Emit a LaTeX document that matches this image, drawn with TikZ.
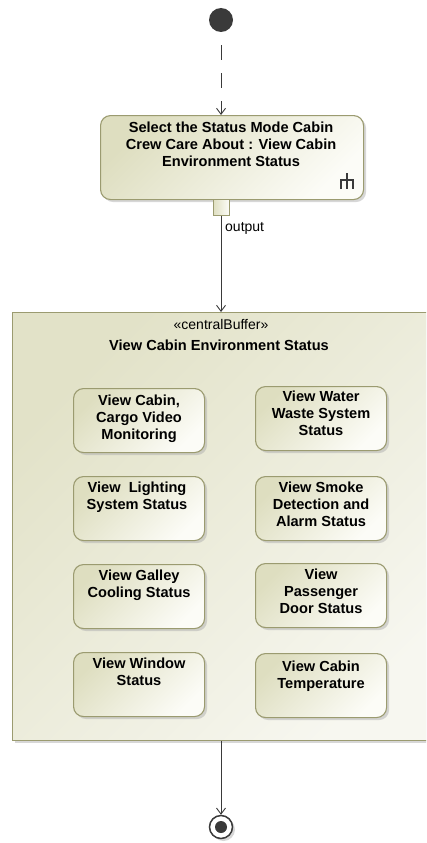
\documentclass[tikz,border=0pt]{standalone}
\usepackage{fontspec}
\setmainfont{Liberation Sans}
\usetikzlibrary{arrows.meta,shadows,calc}

\definecolor{umlborder}{RGB}{155,155,112}
\definecolor{umldark}{RGB}{222,222,192}
\definecolor{umllight}{RGB}{252,252,247}
\definecolor{framedark}{RGB}{226,226,200}
\definecolor{framelight}{RGB}{247,247,240}
\definecolor{ink}{RGB}{58,58,58}
\definecolor{shadowgray}{RGB}{175,175,175}

\begin{document}
\begin{tikzpicture}[x=1pt,y=-1pt,
  umlshadow/.style={drop shadow={shadow xshift=2.5pt,shadow yshift=-2.5pt,fill=shadowgray}},
  actionbox/.style={draw=umlborder,line width=1.1pt,rounded corners=10pt,
    left color=umldark,right color=umllight,shading angle=45,umlshadow,anchor=north west,inner sep=0pt},
  bufferbox/.style={draw=umlborder,line width=1.1pt,left color=framedark,right color=framelight,
    shading angle=45,umlshadow,anchor=north west,inner sep=0pt},
  pinbox/.style={draw=umlborder,line width=1pt,left color=umldark,right color=umllight,
    minimum size=16pt,inner sep=0pt},
  boldtext/.style={font=\fontsize{14.6}{17}\selectfont\bfseries,align=center,inner sep=0pt,anchor=north},
  plaintext/.style={font=\fontsize{14}{17}\selectfont,inner sep=0pt},
  flowline/.style={draw=ink,line width=0.9pt,-{Straight Barb[length=6pt,width=9pt]}},
  smallbox/.style={actionbox,minimum width=131pt,minimum height=64pt}
]
\useasboundingbox (0,0) rectangle (426,843);
\clip (0,0) rectangle (426,843);

% initial node
\node[circle,fill=ink,minimum size=24pt,inner sep=0pt] (init) at (221,20) {};

% call behaviour action
\node[actionbox,minimum width=263pt,minimum height=84pt] (act) at (100,115) {};
\node[boldtext] (acttext) at ($(act.north)+(-1,7)$)
  {Select the Status Mode Cabin\\Crew Care About : View Cabin\\Environment Status};
% rake symbol of the call behaviour action
\draw[ink,line width=1.8pt] (347,173) -- (347,189)
  (341,189) -- (341,180) -- (353,180) -- (353,189);

% output pin
\node[pinbox] (pin) at (221,207) {};
\node[plaintext,anchor=west] (pinlabel) at (225,228) {output};

% central buffer
\node[bufferbox,minimum width=440pt,minimum height=428pt] (buf) at (12,312) {};
\node[plaintext] (stereo) at (221,324) {\guillemotleft centralBuffer\guillemotright};
\node[boldtext,anchor=center] (buftitle) at (219,345) {View Cabin Environment Status};

% contents of the buffer
\node[smallbox] (b1) at (73,388) {};
\node[boldtext] (t1) at ($(b1.north)+(0,7)$) {View Cabin,\\Cargo Video\\Monitoring};
\node[smallbox] (b2) at (255,386) {};
\node[boldtext] (t2) at ($(b2.north)+(0,5)$) {View Water\\Waste System\\Status};

\node[smallbox] (b3) at (73,476) {};
\node[boldtext] (t3) at ($(b3.north)+(-2,6)$) {View\ \ Lighting\\System Status};
\node[smallbox] (b4) at (255,476) {};
\node[boldtext] (t4) at ($(b4.north)+(0,6)$) {View Smoke\\Detection and\\Alarm Status};

\node[smallbox] (b5) at (73,564) {};
\node[boldtext] (t5) at ($(b5.north)+(0,6)$) {View Galley\\Cooling Status};
\node[smallbox] (b6) at (255,563) {};
\node[boldtext] (t6) at ($(b6.north)+(0,6)$) {View\\Passenger\\Door Status};

\node[smallbox] (b7) at (73,652) {};
\node[boldtext] (t7) at ($(b7.north)+(0,6)$) {View Window\\Status};
\node[smallbox] (b8) at (255,653) {};
\node[boldtext] (t8) at ($(b8.north)+(0,8)$) {View Cabin\\Temperature};

% final node
\node[circle,draw=ink,line width=1.5pt,fill=white,minimum size=23pt,inner sep=0pt,umlshadow] (fin) at (221,827) {};
\node[circle,fill=ink,minimum size=12pt,inner sep=0pt] (fincore) at (fin) {};

% flows
\draw[flowline,dash pattern=on 0pt off 13pt on 15pt off 0pt] (init) -- (init |- act.north);
\draw[flowline] (pin.south) -- (pin.south |- buf.north);
\draw[flowline] (fin |- buf.south) -- (fin.north);
\end{tikzpicture}
\end{document}
